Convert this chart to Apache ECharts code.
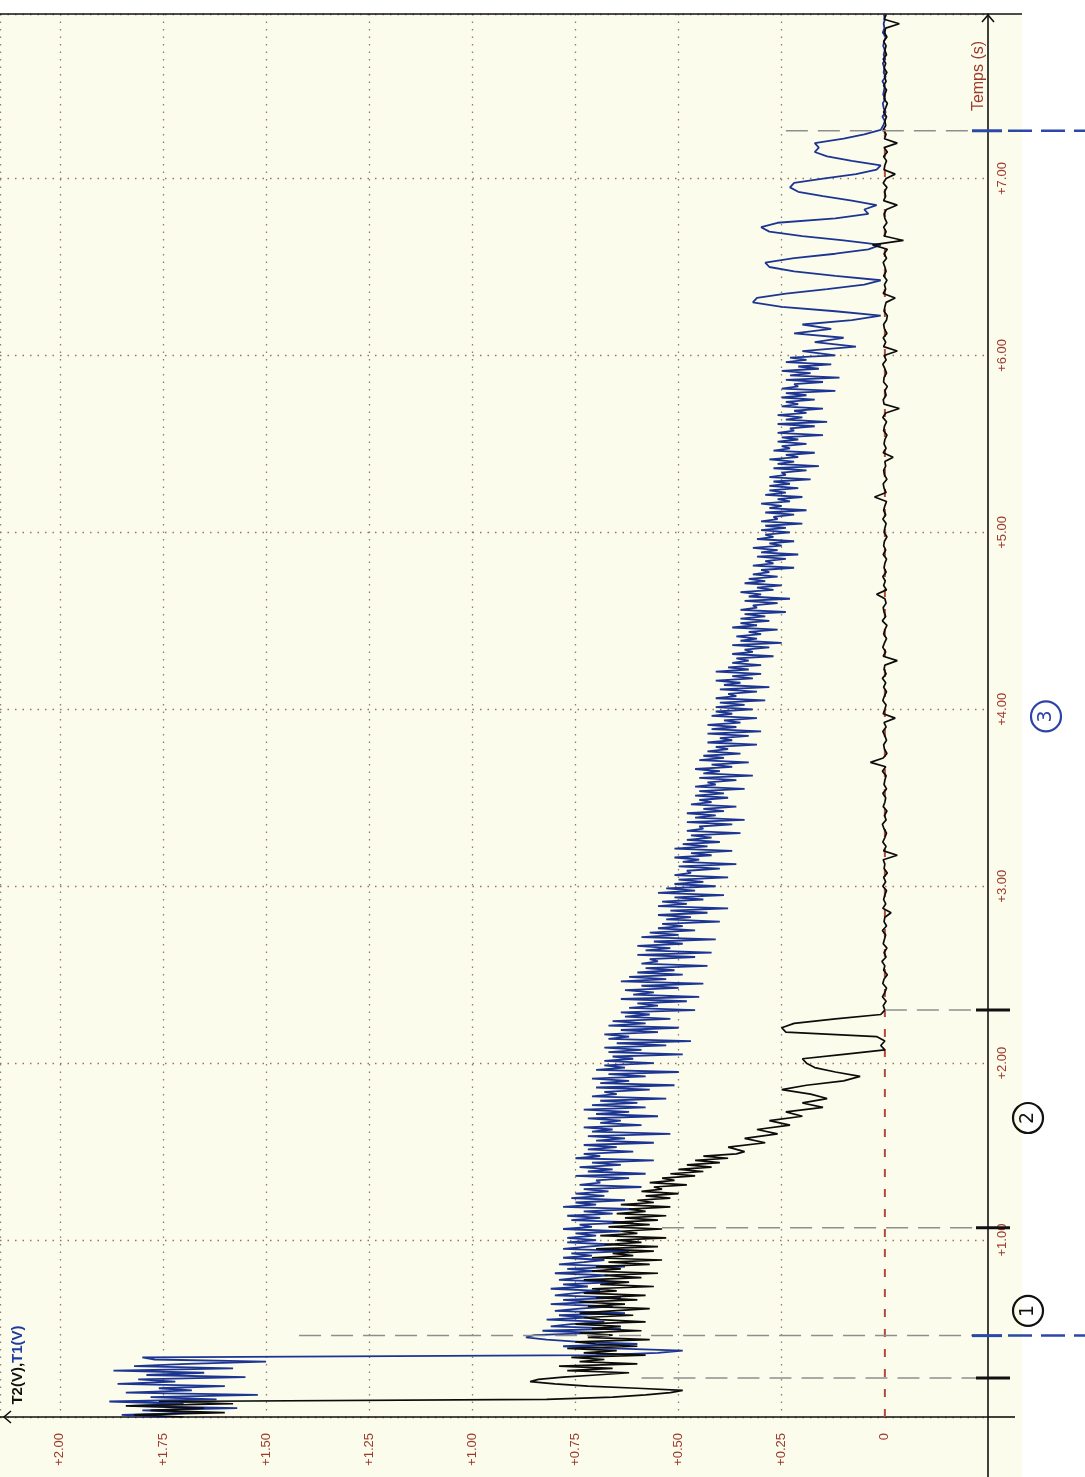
<!DOCTYPE html>
<html><head><meta charset="utf-8">
<script src="https://cdn.jsdelivr.net/npm/echarts@6/dist/echarts.min.js"></script>
<style>html,body{margin:0;padding:0;background:#fcfcec;}#c{width:1085px;height:1477px;}</style>
</head><body><div id="c"></div>
<script>
// ---------------- data ----------------
// T1 (blue) samples, in hundredths of a volt, one array per recorded stretch
const t1PlateauC = [174,185,166,180,157,183,170,188,162,178,152,184,168,176,160,186,172,181,155,179,165,187,158,182,169,150,177,180];
const t1DropC = [70,55,49,66,78,60,74,82,87,85,70,83,64,81,76,68,82,72,79,63,80,74,66,81,71,78,64,80,75,69,81,72,78,65,79,74,67,80,70,77,63,79,73,68,78,71,76,62,78,72,66,77,70];
const t1DecayC = [
 77,70,75,64,78,71,74,61,76,69,77,66,73,60,78,70,75,63,76,68,
 75,67,73,59,74,69,70,62,75,58,72,66,74,64,71,56,75,69,73,61,
 72,65,73,56,70,63,72,52,71,66,73,59,69,64,72,55,70,62,73,58,
 71,60,69,53,71,65,68,57,70,51,69,62,71,58,67,50,70,63,68,56,
 68,61,66,49,67,59,68,53,65,47,67,62,68,55,64,50,67,58,66,52,
 63,57,64,46,62,55,60,48,64,45,61,56,63,50,59,44,64,53,62,49,
 60,51,58,43,59,55,57,46,60,42,58,52,60,49,56,41,59,50,57,46,
 55,49,54,40,53,47,55,43,52,38,55,48,54,44,51,39,55,46,53,41,
 51,44,50,38,51,47,48,40,50,36,49,45,51,42,47,37,51,43,49,40,
 48,42,47,35,48,44,45,37,48,34,46,41,48,39,44,36,47,42,45,38,
 46,39,45,34,46,41,43,36,45,32,44,40,46,37,42,33,45,39,44,35,
 43,38,41,31,43,37,40,33,43,30,42,36,43,35,39,31,42,37,41,32,
 41,34,40,29,41,36,38,31,40,28,39,35,41,32,37,30,41,33,38,30,
 37,33,36,27,37,32,34,28,37,25,35,31,36,30,33,26,37,31,35,28,
 35,29,34,24,35,31,32,26,34,23,33,30,35,27,31,25,34,29,33,26,
 32,28,30,22,32,27,29,24,31,21,30,26,32,25,28,22,31,27,29,23,
 30,24,29,20,30,26,27,22,29,19,28,25,30,23,26,20,29,24,28,21,
 28,23,27,18,28,24,25,19,27,16,26,22,28,21,24,17,27,23,25,19,
 26,21,25,15,26,22,23,17,26,14,24,20,26,19,22,15,25,21,24,17,
 25,19,24,12,25,21,22,15,24,11,23,18,25,16,21,13,24,19,23];
const t1BurstsC = [
 12,20,7,17,10,22,13,20,8,1,
 12,25,32,31,24,14,5,1,12,22,
 28,29,22,12,4,1,10,20,28,30,
 26,12,4,5,2,8,15,21,23,22,
 15,7,2,1,8,14,17,16,17,10,
 5,1];
const t1Rest = [0.004,0.000,0.006,-0.002,0.003,0.005,-0.001,0.004,0.002,0.000,0.006,-0.002,0.003,0.001,0.005,-0.001,0.003,0.000,0.004,0.002,-0.002,0.005,0.001,0.003,0.000,0.002];
// T2 (black) samples
const t2StartC = [170,182,160,178,165,184,158,176];
const t2FallC = [
 82,66,58,52,49,60,72,80,86,84,
 78,70,62,77,66,79,60,74,68,76,
 58,73,65,77,60,70,75,57,72,66,
 74,59,71,64,75,58,69,73,61,74,
 66,57,72,63,74,60,70,58,73,65,
 71,56,69,62,73,59,68,55,71,64,
 70,57,67,54,71,61,66,56,70,55,
 68,59,65,53,69,60,64,54,67,57,
 66,55,63,53,65,58,62,52,64,56,
 60,52,58,50,59,54,56,48,57,51,
 54,46,52,44,50,42,48,40,46,38,
 44,36];
const t2SettleC = [34,38,29,34,26,31,23,28,20,24,15,20,14,18,25,19,10,6,12,17,19,20,10,0,1,0,2,24,25,22,12,1,0];
const t2Baseline = [
 0.004,-0.003,0.006,0.000,-0.004,0.005,0.002,-0.006,0.003,0.000,0.007,-0.003,0.002,-0.005,0.004,0.001,-0.002,0.006,-0.004,0.002,0.000,-0.015,0.005,-0.002,0.003,
 0.000,-0.004,0.005,-0.002,0.003,-0.006,0.002,0.000,0.004,-0.030,0.003,-0.003,0.005,0.000,-0.004,0.002,0.006,-0.003,0.001,-0.005,0.004,0.000,-0.002,0.005,-0.004,
 0.002,0.000,-0.003,0.006,-0.002,0.035,0.004,-0.005,0.001,0.003,-0.004,0.000,0.005,-0.003,0.002,-0.025,0.004,0.000,-0.003,0.005,0.001,-0.004,0.003,-0.002,0.006,
 -0.003,0.002,0.000,-0.030,0.004,-0.002,0.005,0.001,-0.004,0.003,0.000,-0.005,0.006,-0.002,0.002,0.004,-0.003,0.000,0.020,-0.004,0.003,-0.001,0.005,-0.003,0.002,
 0.000,-0.004,0.004,-0.002,0.003,0.001,-0.005,0.002,0.000,-0.003,0.005,-0.002,0.003,0.000,-0.004,0.025,-0.003,0.002,0.004,-0.005,0.001,0.003,-0.002,0.000,-0.020,
 0.004,-0.003,0.002,0.000,-0.005,0.003,0.001,-0.004,0.005,-0.002,-0.035,0.002,0.004,-0.003,0.000,-0.006,0.003,0.002,-0.004,0.000,0.005,-0.003,0.002,-0.030,0.003,
 -0.002,0.004,-0.005,0.001,0.003,-0.004,-0.006,0.002,0.000,-0.003,-0.025,0.004,-0.002,0.001,-0.005,0.003,-0.003,0.000,0.004,-0.004,0.002,-0.006,0.030,-0.045,0.002,
 -0.003,0.003,-0.005,0.000,0.002,-0.004,-0.030,0.003,-0.002,0.001,-0.005,0.004,-0.003,-0.025,0.002,0.000,-0.004,0.003,-0.006,0.002,-0.030,0.001,-0.003,0.004,-0.002,
 0.000,-0.004,0.003,-0.002,-0.006,0.002,0.000,-0.004,0.003,-0.003,0.001,-0.005,0.002,-0.002,0.004,-0.004,0.000,-0.003,0.003,-0.005,0.001,-0.002,-0.035,0.002,-0.003];
// start time and sampling step (s) of each recorded stretch
const t1Starts = [0, 0.35, 1.0125, 6.0, 7.3];
const t1Steps = [0.0125, 0.0125, 0.0125, 0.025, 0.025];
const t2Starts = [0, 0.1, 1.5, 2.325];
const t2Steps = [0.0125, 0.0125, 0.025, 0.025];
// axes
const voltMin = -0.25, voltMax = 2.145, voltStep = 0.25;
const timeMin = 0, timeMax = 7.93, timeStep = 1;
const zeroVolt = 0;
// cursor markers: time (s), voltage where the dashed line starts, kind
const markerTimes = [0.22, 0.46, 1.07, 2.30, 7.27];
const markerStartV = [0.59, 1.42, 0.54, 0.00, 0.24];
const markerKind = ['black', 'blue', 'black', 'black', 'blue'];
// hand-written circled notes
const noteLabels = ['1', '2', '3'];
const noteTimes = [0.60, 1.69, 3.96];
const noteColors = ['#111111', '#111111', '#2c43a8'];

const centi = a => a.map(v => v / 100);
const t1Parts = [centi(t1PlateauC), centi(t1DropC), centi(t1DecayC), centi(t1BurstsC), t1Rest];
const t2Parts = [centi(t2StartC), centi(t2FallC), centi(t2SettleC), t2Baseline];
const toPairs = (parts, starts, steps) => {
  const out = [];
  parts.forEach((vals, k) => vals.forEach((v, i) => out.push([v, +(starts[k] + i * steps[k]).toFixed(5)])));
  return out;
};

const RED = '#9c3a2c', BLUE = '#1c3592', FONT = '"Liberation Sans", Arial, sans-serif';
const chart = echarts.init(document.getElementById('c'), null, {renderer: 'canvas'});
const gridC = '#8a7d76';
chart.setOption({
  animation: false,
  backgroundColor: '#fcfcec',
  grid: {left: 0, right: 97, top: 14, bottom: 60, containLabel: false},
  xAxis: {
    type: 'value', inverse: true, position: 'bottom',
    min: voltMin, max: voltMax, interval: voltStep,
    axisLine: {show: true, onZero: false, lineStyle: {color: '#111', width: 1.6}},
    axisTick: {show: false},
    axisLabel: {
      rotate: 90, margin: 16, color: RED, fontSize: 13, fontFamily: FONT,
      showMaxLabel: false, showMinLabel: false,
      formatter: v => (v < -0.01 ? '' : (Math.abs(v) < 1e-9 ? '0' : '+' + v.toFixed(2)))
    },
    splitLine: {show: true, lineStyle: {color: ['rgba(0,0,0,0)', 'rgba(0,0,0,0)', gridC, gridC, gridC, gridC, gridC, gridC, gridC, gridC, gridC], width: 1.3, type: [1.5, 6]}}
  },
  yAxis: {
    type: 'value', position: 'right',
    min: timeMin, max: timeMax, interval: timeStep,
    axisLine: {show: true, onZero: false, lineStyle: {color: '#111', width: 1.6}},
    axisTick: {show: false},
    axisLabel: {
      rotate: 90, margin: 8, color: RED, fontSize: 13, fontFamily: FONT,
      showMaxLabel: false, showMinLabel: false,
      formatter: v => (v <= 0 ? '' : '+' + v.toFixed(2))
    },
    splitLine: {show: true, lineStyle: {color: '#a0705f', width: 1.3, type: [1.5, 6]}}
  },
  series: [
    {name: 'zero', type: 'line', z: 1, silent: true, symbol: 'none',
     data: [[zeroVolt, timeMin], [zeroVolt, timeMax]],
     lineStyle: {color: '#b34a3a', width: 2, type: [8, 12]}},
    {name: 'T1(V)', type: 'line', z: 2, symbol: 'none', showSymbol: false, sampling: null,
     data: toPairs(t1Parts, t1Starts, t1Steps), lineStyle: {color: BLUE, width: 1.8}},
    {name: 'T2(V)', type: 'line', z: 3, symbol: 'none', showSymbol: false, sampling: null,
     data: toPairs(t2Parts, t2Starts, t2Steps), lineStyle: {color: '#0c0c0c', width: 1.7}}
  ]
});

// ---------------- annotation layer positioned through the axes ----------------
const px = (v, t) => chart.convertToPixel({gridIndex: 0}, [v, t]);
const axisX = px(voltMin, 0)[0];
const axisBottom = px(0, timeMin)[1];
const topY = px(0, timeMax)[1];
const leftX = px(voltMax, 0)[0];
const W = 1085, H = 1477;
const g = [];
g.push({type: 'rect', z: -5, shape: {x: axisX + 34, y: 0, width: W - axisX - 34, height: H}, style: {fill: '#ffffff'}});
g.push({type: 'rect', z: -5, shape: {x: 0, y: 0, width: W, height: topY}, style: {fill: '#ffffff'}});
g.push({type: 'line', z: 10, shape: {x1: 0, y1: topY, x2: axisX + 34, y2: topY}, style: {stroke: '#111', lineWidth: 1.6}});
g.push({type: 'line', z: 10, shape: {x1: axisX, y1: axisBottom, x2: axisX + 27, y2: axisBottom}, style: {stroke: '#111', lineWidth: 1.6}});
g.push({type: 'line', z: 10, shape: {x1: axisX, y1: axisBottom, x2: axisX, y2: H}, style: {stroke: '#111', lineWidth: 1.6}});
g.push({type: 'polyline', z: 10, shape: {points: [[leftX + 11, axisBottom - 6], [leftX + 4, axisBottom], [leftX + 11, axisBottom + 6]]}, style: {stroke: '#111', lineWidth: 1.6, fill: 'none'}});
g.push({type: 'polyline', z: 10, shape: {points: [[axisX - 6, topY + 8], [axisX, topY + 1], [axisX + 6, topY + 8]]}, style: {stroke: '#111', lineWidth: 1.6, fill: 'none'}});
markerTimes.forEach((t, i) => {
  const p0 = px(markerStartV[i], t);
  const y = p0[1];
  g.push({type: 'line', z: 8, shape: {x1: p0[0], y1: y, x2: axisX - 4, y2: y}, style: {stroke: '#8e8e8e', lineWidth: 1.5, lineDash: [22, 10]}});
  if (markerKind[i] === 'black') {
    g.push({type: 'line', z: 11, shape: {x1: axisX - 12, y1: y, x2: axisX + 22, y2: y}, style: {stroke: '#111', lineWidth: 3}});
  } else {
    g.push({type: 'line', z: 11, shape: {x1: axisX - 16, y1: y, x2: axisX + 14, y2: y}, style: {stroke: '#2b48a8', lineWidth: 3}});
    g.push({type: 'line', z: 11, shape: {x1: axisX + 20, y1: y, x2: W, y2: y}, style: {stroke: '#2b48a8', lineWidth: 2.5, lineDash: [24, 9]}});
  }
});
noteLabels.forEach((lab, i) => {
  const y = px(0, noteTimes[i])[1];
  const x = axisX + (i === 2 ? 58 : 40);
  g.push({type: 'circle', z: 12, shape: {cx: x, cy: y, r: 15}, style: {fill: 'none', stroke: noteColors[i], lineWidth: 2.2}});
  g.push({type: 'text', z: 12, x: x, y: y, rotation: Math.PI / 2,
    style: {text: lab, fill: noteColors[i], font: '19px "DejaVu Sans", sans-serif', align: 'center', verticalAlign: 'middle'}});
});
g.push({type: 'text', z: 12, x: axisX - 9, y: topY + 62, rotation: Math.PI / 2,
  style: {text: 'Temps (s)', fill: RED, font: '16px ' + FONT, align: 'center', verticalAlign: 'middle'}});
g.push({type: 'text', z: 12, x: leftX + 18, y: axisBottom - 52, rotation: Math.PI / 2,
  style: {text: '{a|T2(V),}{b|T1(V)}', align: 'center', verticalAlign: 'middle',
    rich: {a: {fill: '#111', font: 'bold 15px ' + FONT}, b: {fill: '#1f3aa0', font: 'bold 15px ' + FONT}}}});
chart.setOption({graphic: {elements: g}});
</script>
</body></html>
